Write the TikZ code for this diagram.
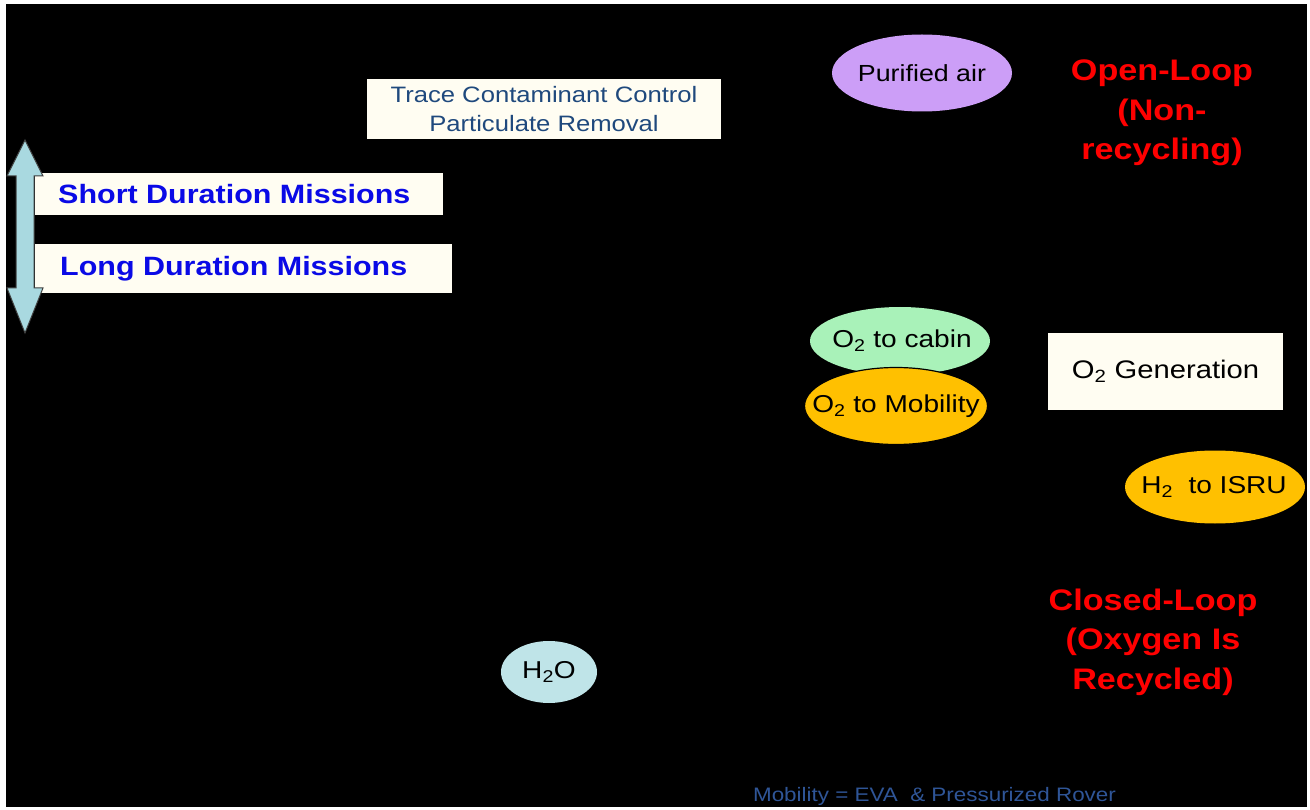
\documentclass[tikz,border=0pt]{standalone}
\usepackage{fontspec}
\setmainfont{Liberation Sans}[FakeStretch=1.15]
\usetikzlibrary{shapes.geometric}
\definecolor{cream}{HTML}{FFFDF2}
\definecolor{tracetxt}{HTML}{1F497D}
\definecolor{missblue}{HTML}{0A0AE6}
\definecolor{lav}{HTML}{CC9EF7}
\definecolor{mint}{HTML}{A9F2B9}
\definecolor{amber}{HTML}{FFC000}
\definecolor{water}{HTML}{BFE4E8}
\definecolor{arrowfill}{HTML}{A9D9E0}
\definecolor{loopred}{HTML}{FF0000}
\definecolor{notetxt}{HTML}{2F5597}
\tikzset{
  creambox/.style={rectangle, fill=cream, draw=none, inner sep=0pt},
  oval/.style={ellipse, inner sep=0pt, draw=none},
  ovaltxt/.style={font=\fontsize{24.4}{28}\selectfont, text=black},
  looptxt/.style={align=center, text=loopred, font=\fontsize{29.7}{39.5}\selectfont\bfseries},
  misstxt/.style={anchor=west, text=missblue, font=\fontsize{26.5}{30}\selectfont\bfseries, inner sep=0pt},
}
\begin{document}
\begin{tikzpicture}[x=1pt,y=-1pt]
\useasboundingbox (0,0) rectangle (1310,810);
\fill[white] (0,0) rectangle (1310,810);
\fill[black] (6,4) rectangle (1307,807);

% boxes
\node[creambox, minimum width=354pt, minimum height=60pt, align=center,
      text=tracetxt, font=\fontsize{22.3}{29}\selectfont] (trace) at (544,109)
  {Trace Contaminant Control\\Particulate Removal};
\node[creambox, minimum width=408pt, minimum height=42pt] (shortbox) at (239,194) {};
\node[creambox, minimum width=417pt, minimum height=49pt] (longbox) at (243.5,268.5) {};
\node[misstxt] (shorttxt) at (58,194) {Short Duration Missions};
\node[misstxt] (longtxt) at (60,269) {Long Duration Missions};
\node[creambox, minimum width=235pt, minimum height=77pt,
      font=\fontsize{25.4}{28}\selectfont, text=black] (gen) at (1165.5,371.5)
  {O\textsubscript{2} Generation};

% double arrow
\filldraw[fill=arrowfill, draw=black!75, line width=1pt]
  (25,140) -- (43,176) -- (34,176) -- (34,288) -- (43,288) -- (25,333)
  -- (7,288) -- (16,288) -- (16,176) -- (7,176) -- cycle;

% ellipses
\node[oval, fill=lav, minimum width=180pt, minimum height=77pt, ovaltxt,
      font=\fontsize{23.3}{26}\selectfont] (air) at (922,73) {\makebox[0pt]{Purified air}};
\node[oval, fill=mint, minimum width=180pt, minimum height=68pt, ovaltxt] (cabin) at (900,341)
  {\makebox[0pt]{\hspace*{4pt}O\textsubscript{2} to cabin}};
\node[oval, fill=amber, draw=black, line width=1.2pt, minimum width=183pt, minimum height=77pt, ovaltxt] (mob) at (896,406)
  {\makebox[0pt]{O\textsubscript{2} to Mobility}};
\node[oval, fill=amber, minimum width=180pt, minimum height=73pt, ovaltxt] (isru) at (1215,487)
  {\makebox[0pt]{\hspace*{-2pt}H\textsubscript{2}\ \ to ISRU}};
\node[oval, fill=water, minimum width=96pt, minimum height=62pt, ovaltxt] (water) at (549,672)
  {\makebox[0pt]{H\textsubscript{2}O}};

% loop labels
\node[looptxt] (open) at (1162,113) {Open-Loop\\(Non-\\recycling)};
\node[looptxt] (closed) at (1153,642) {Closed-Loop\\(Oxygen Is\\Recycled)};

% note
\node[text=notetxt, font=\fontsize{19.5}{22}\selectfont, inner sep=0pt] (note) at (934.5,796)
  {Mobility = EVA \ \& Pressurized Rover};
\end{tikzpicture}
\end{document}
